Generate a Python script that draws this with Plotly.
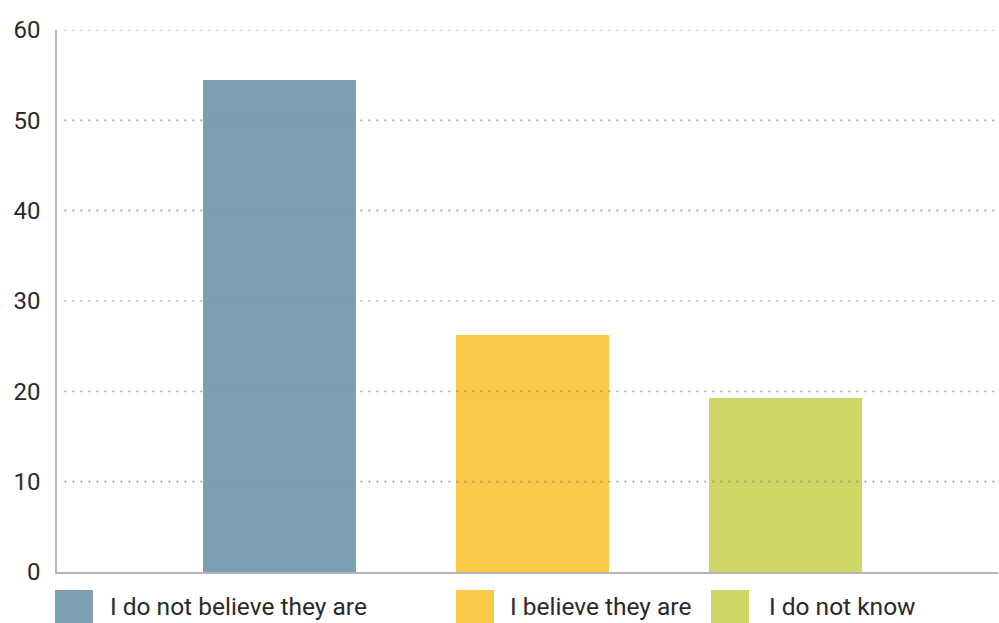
import plotly.graph_objects as go

# Survey answers and their shares (%)
categories = ["I do not believe they are", "I believe they are", "I do not know"]
values = [54.5, 26.2, 19.3]
colors = ["#7BA0B4", "#F9C949", "#D0D666"]
y_ticks = [0, 10, 20, 30, 40, 50, 60]

FONT = "Roboto"
TEXT = "#2a2a2a"

# plot-area geometry (pixels) used to place the legend under the axis
PLOT_LEFT, PLOT_W = 57, 941


def px_to_paper(px):
    return (px - PLOT_LEFT) / PLOT_W


fig = go.Figure()
for cat, val, col in zip(categories, values, colors):
    fig.add_trace(go.Bar(
        x=[cat], y=[val], name=cat, marker=dict(color=col, line=dict(width=0)),
        width=0.605, showlegend=False, hoverinfo="x+y",
    ))

# dotted guide lines drawn over the bars
shapes = []
for t in y_ticks[1:]:
    shapes.append(dict(
        type="line", xref="paper", yref="y", x0=0.008, x1=1, y0=t, y1=t,
        line=dict(color="#969696", width=1.6, dash="1.6px,6.4px"), layer="above",
    ))

# legend: coloured squares with labels under the plot
swatch_left = [55, 456, 711]
swatch_width = 38
label_left = [108, 508, 767]
annotations = []
for i, (cat, col) in enumerate(zip(categories, colors)):
    shapes.append(dict(
        type="rect", xref="paper", yref="paper",
        x0=px_to_paper(swatch_left[i]),
        x1=px_to_paper(swatch_left[i] + swatch_width),
        y0=-0.095, y1=-0.033, fillcolor=col, line=dict(width=0), layer="above",
    ))
    annotations.append(dict(
        xref="paper", yref="paper", x=px_to_paper(label_left[i]), y=-0.064,
        text=cat, showarrow=False, xanchor="left", yanchor="middle",
        font=dict(family=FONT, size=24.5, color=TEXT),
    ))

fig.update_layout(
    width=999, height=623,
    margin=dict(l=57, r=1, t=30, b=51),
    paper_bgcolor="white", plot_bgcolor="white",
    bargap=0,
    font=dict(family=FONT, size=24, color=TEXT),
    xaxis=dict(
        type="category", range=[-0.88, 2.84], showticklabels=False, ticks="",
        showgrid=False, showline=True, linecolor="#b5b5b5", linewidth=1.5,
        zeroline=False, fixedrange=True,
    ),
    yaxis=dict(
        range=[0, 60], tickvals=y_ticks, showgrid=False, zeroline=False,
        showline=True, linecolor="#b5b5b5", linewidth=1.5, ticks="",
        ticklabelstandoff=10, tickfont=dict(family=FONT, size=24, color=TEXT),
        fixedrange=True,
    ),
    shapes=shapes,
    annotations=annotations,
    showlegend=False,
)

fig.write_html("out.html")
